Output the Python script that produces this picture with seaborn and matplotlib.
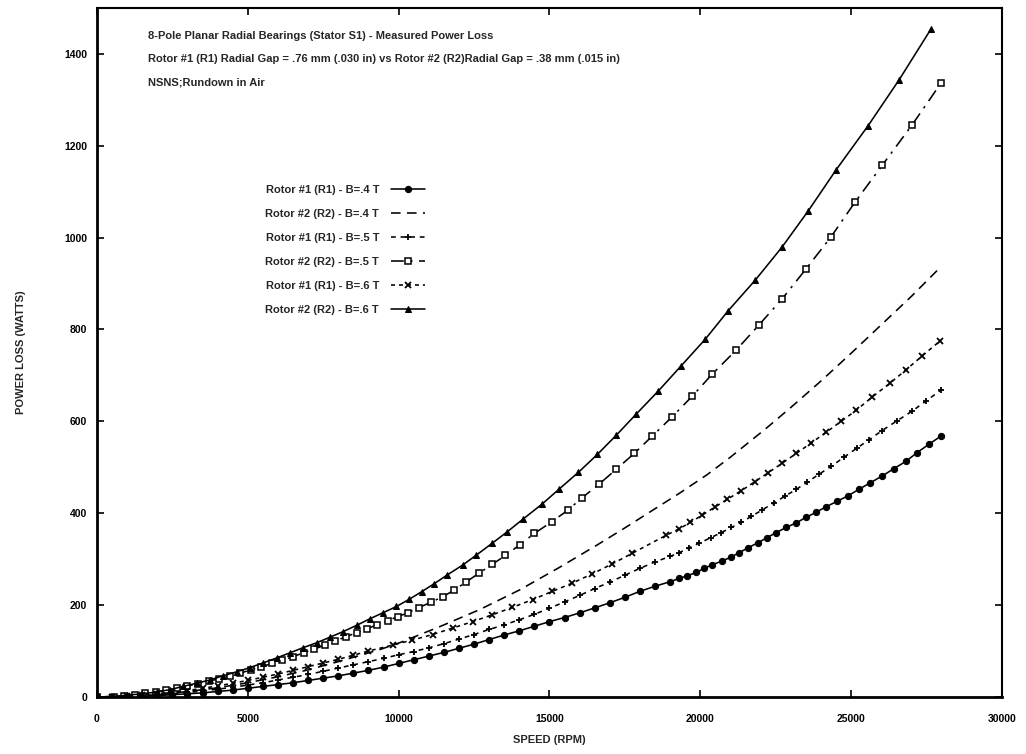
import matplotlib
matplotlib.use("Agg")
import matplotlib.pyplot as plt
import seaborn as sns

# ==========================================
# DATA
# ==========================================

# Rotor #1 - B=.4 T  (filled dots, solid)
r1_b4_speed = [0, 500, 1000, 1500, 2000, 2500, 3000, 3500, 4000, 4500, 5000, 5500,
               6000, 6500, 7000, 7500, 8000, 8500, 9000, 9500, 10000, 10500, 11000,
               11500, 12000, 12500, 13000, 13500, 14000, 14500, 15000, 15500, 16000,
               16500, 17000, 17500, 18000, 18500, 19000, 19300, 19570, 19870, 20130,
               20400, 20730, 21030, 21290, 21590, 21920, 22220, 22520, 22850, 23180,
               23510, 23840, 24170, 24540, 24900, 25260, 25630, 26030, 26420, 26820,
               27190, 27580, 27980]
r1_b4_power = [0, 0.5, 1, 2, 3, 5, 7, 9, 12, 15, 19, 23,
               27, 31, 36, 41, 46, 52, 58, 65, 73, 81, 89,
               97, 106, 115, 125, 135, 144, 154, 164, 173, 183,
               194, 205, 217, 230, 241, 251, 258, 264, 271, 280,
               288, 296, 305, 314, 325, 336, 347, 358, 369, 379,
               391, 402, 414, 426, 438, 452, 466, 481, 497, 513,
               532, 550, 568]

# Rotor #2 - B=.4 T  (dashed, no markers)
r2_b4_speed = [0, 1000, 2000, 3000, 4000, 5000, 6000, 7000, 8000, 9370, 10030,
               11360, 12680, 14010, 15330, 16560, 17500, 18410, 19300, 20230, 21000,
               22190, 23000, 24040, 25000, 26000, 27000, 27880]
r2_b4_power = [0, 1.5, 5, 12, 20, 31, 44, 59, 77, 103, 118,
               153, 190, 233, 282, 330, 368, 406, 443, 484, 522,
               585, 630, 690, 748, 810, 872, 930]

# Rotor #1 - B=.5 T  (plus markers, dotted)
r1_b5_speed = [0, 500, 1000, 1500, 2000, 2500, 3000, 3500, 4000, 4500, 5000, 5500,
               6000, 6500, 7000, 7500, 8000, 8500, 9000, 9500, 10000, 10500, 11000,
               11500, 12000, 12500, 13000, 13500, 14000, 14500, 15000, 15500, 16000,
               16500, 17000, 17500, 18000, 18500, 19000, 19300, 19640, 19970, 20360,
               20700, 21030, 21360, 21690, 22050, 22450, 22810, 23180, 23540, 23940,
               24340, 24770, 25200, 25600, 26030, 26520, 27020, 27480, 27980]
r1_b5_power = [0, 0.5, 1.5, 3, 5, 7, 10, 13, 17, 21, 26, 31,
               37, 43, 49, 56, 63, 70, 77, 84, 92, 99, 107,
               116, 126, 136, 147, 157, 168, 180, 193, 207, 221,
               236, 250, 265, 280, 294, 306, 314, 325, 335, 347,
               358, 369, 380, 393, 407, 423, 437, 452, 467, 485,
               502, 522, 542, 560, 580, 601, 622, 644, 668]

# Rotor #2 - B=.5 T  (open squares, dash-dot)
r2_b5_speed = [0, 550, 900, 1250, 1600, 1950, 2300, 2650, 3000, 3350, 3700, 4050,
               4400, 4750, 5100, 5450, 5800, 6150, 6500, 6850, 7200, 7550, 7900,
               8250, 8610, 8940, 9270, 9640, 9970, 10300, 10660, 11090, 11460,
               11850, 12250, 12680, 13110, 13540, 14010, 14500, 15070, 15600,
               16090, 16660, 17220, 17810, 18410, 19070, 19740, 20400, 21190,
               21950, 22720, 23510, 24340, 25130, 26030, 27020, 27980]
r2_b5_power = [0, 1, 3, 5, 8, 11, 15, 19, 24, 29, 34, 40,
               46, 52, 59, 66, 73, 80, 88, 96, 104, 113, 122,
               131, 140, 148, 157, 166, 175, 183, 194, 207, 218,
               233, 251, 270, 289, 308, 331, 356, 381, 406,
               434, 464, 496, 530, 568, 610, 655, 703, 755,
               810, 867, 932, 1002, 1077, 1157, 1245, 1336]

# Rotor #1 - B=.6 T  (x markers, dotted)
r1_b6_speed = [0, 500, 1000, 1500, 2000, 2500, 3000, 3500, 4000, 4500, 5000, 5500,
               6000, 6500, 7000, 7500, 8000, 8500, 9000, 9800, 10460, 11130, 11790,
               12450, 13110, 13770, 14440, 15100, 15760, 16420, 17090, 17750, 18870,
               19300, 19670, 20070, 20500, 20890, 21360, 21820, 22250, 22720, 23180,
               23680, 24170, 24670, 25170, 25700, 26290, 26820, 27350, 27950]
r1_b6_power = [0, 1, 2, 4, 7, 10, 14, 19, 24, 30, 36, 43,
               50, 58, 66, 74, 82, 91, 100, 113, 124, 136, 150,
               164, 179, 195, 212, 230, 248, 268, 290, 313, 352,
               366, 380, 396, 414, 430, 449, 469, 488, 509, 530,
               553, 576, 600, 624, 653, 683, 712, 742, 775]

# Rotor #2 - B=.6 T  (filled triangles, solid)
r2_b6_speed = [0, 500, 1000, 1500, 1990, 2420, 2850, 3310, 3740, 4170, 4640, 5070,
               5500, 5960, 6390, 6820, 7280, 7720, 8150, 8610, 9040, 9470, 9930,
               10360, 10760, 11190, 11620, 12120, 12580, 13110, 13610, 14140, 14740,
               15330, 15960, 16590, 17220, 17880, 18610, 19370, 20170, 20930, 21820,
               22720, 23580, 24500, 25560, 26590, 27650]
r2_b6_power = [0, 1, 4, 7, 11, 16, 23, 30, 37, 46, 55, 64,
               74, 85, 96, 107, 118, 130, 142, 156, 170, 183, 197,
               213, 229, 247, 266, 287, 309, 335, 360, 388, 419,
               453, 489, 528, 570, 616, 666, 721, 779, 841, 907,
               980, 1058, 1147, 1243, 1343, 1454]

LABELS = [
    "Rotor #1 (R1) - B=.4 T",
    "Rotor #2 (R2) - B=.4 T",
    "Rotor #1 (R1) - B=.5 T",
    "Rotor #2 (R2) - B=.5 T",
    "Rotor #1 (R1) - B=.6 T",
    "Rotor #2 (R2) - B=.6 T",
]

TITLE_LINES = [
    "8-Pole Planar Radial Bearings (Stator S1) - Measured Power Loss",
    "Rotor #1 (R1) Radial Gap = .76 mm (.030 in) vs Rotor #2 (R2)Radial Gap = .38 mm (.015 in)",
    "NSNS;Rundown in Air",
]

X_TICKS = [0, 5000, 10000, 15000, 20000, 25000, 30000]
Y_TICKS = [0, 200, 400, 600, 800, 1000, 1200, 1400]

# ==========================================
# STYLE
# ==========================================

sns.set_theme(style="ticks")
plt.rcParams["font.family"] = ["Liberation Sans Narrow", "Liberation Sans", "DejaVu Sans"]
plt.rcParams["font.weight"] = "bold"

fig = plt.figure(figsize=(10.26, 7.54), dpi=100)
ax = fig.add_axes([0.0945, 0.0756, 0.882, 0.914])

series = [
    (r1_b4_speed, r1_b4_power, dict(linestyle="-", marker="o", markersize=4.5)),
    (r2_b4_speed, r2_b4_power, dict(linestyle=(0, (6, 4)))),
    (r1_b5_speed, r1_b5_power, dict(linestyle=(0, (3, 3)), marker="+", markersize=4.5,
                                    markeredgewidth=1.3)),
    (r2_b5_speed, r2_b5_power, dict(linestyle=(0, (8, 4, 1.5, 4)), marker="s",
                                    markersize=4.5, markerfacecolor="white",
                                    markeredgewidth=1.1)),
    (r1_b6_speed, r1_b6_power, dict(linestyle=(0, (2.5, 2.5)), marker="x",
                                    markersize=4.5, markeredgewidth=1.3)),
    (r2_b6_speed, r2_b6_power, dict(linestyle="-", marker="^", markersize=4.5)),
]

for (xs, ys, style), label in zip(series, LABELS):
    sns.lineplot(
        x=xs,
        y=ys,
        ax=ax,
        color="black",
        linewidth=1.15,
        markeredgecolor="black",
        estimator=None,
        sort=False,
        label=label,
        **style
    )

ax.set_xlim(0, 30000)
ax.set_ylim(0, 1500)
ax.set_xticks(X_TICKS)
ax.set_yticks(Y_TICKS)
ax.set_xticklabels([str(t) for t in X_TICKS], fontsize=7.5, fontweight="bold")
ax.set_yticklabels([str(t) for t in Y_TICKS], fontsize=7.5, fontweight="bold")
ax.tick_params(direction="in", length=5, width=1.2, top=True, right=True, colors="black")
ax.tick_params(axis="x", pad=12)
ax.tick_params(axis="y", pad=7)

for side in ["left", "bottom", "right", "top"]:
    ax.spines[side].set_visible(True)
    ax.spines[side].set_color("black")
    ax.spines[side].set_linewidth(1.5)
ax.spines["left"].set_linewidth(2)
ax.spines["bottom"].set_linewidth(2)

ax.set_xlabel("SPEED (RPM)", fontsize=8, fontweight="bold")
ax.set_ylabel("POWER LOSS (WATTS)", fontsize=8, fontweight="bold")
ax.xaxis.set_label_coords(0.5, -0.055)
ax.yaxis.set_label_coords(-0.078, 0.5)

ax.legend(
    loc="upper left",
    bbox_to_anchor=(0.175, 0.757),
    frameon=False,
    markerfirst=False,
    handlelength=3.0,
    handletextpad=1.1,
    labelspacing=1.25,
    prop={"weight": "bold", "size": 8},
)

for i, line in enumerate(TITLE_LINES):
    fig.text(0.144, 0.952 - i * 0.0305, line, fontsize=8, fontweight="bold",
             ha="left", va="center")

fig.savefig("out.png", dpi=100, facecolor="white")
